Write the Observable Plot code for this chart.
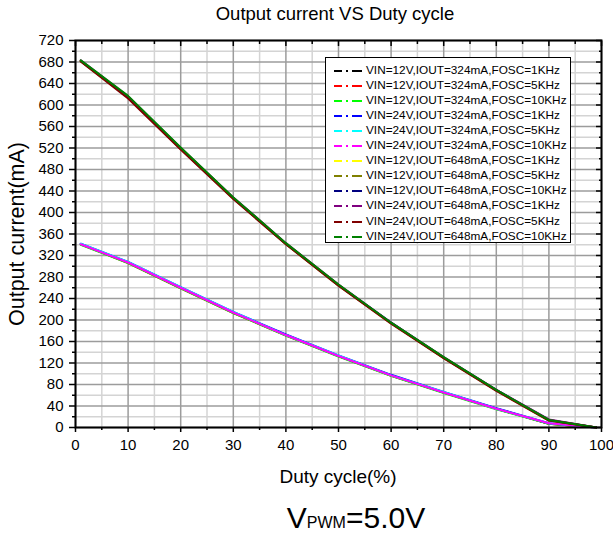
<!DOCTYPE html>
<html>
<head>
<meta charset="utf-8">
<script src="https://cdn.jsdelivr.net/npm/d3@7"></script>
<script src="https://cdn.jsdelivr.net/npm/@observablehq/plot@0.6"></script>
<style>
  html, body { margin: 0; padding: 0; background: #fff; }
  #wrap { position: relative; width: 613px; height: 533px; font-family: "Liberation Sans", Arial, sans-serif; color: #000; overflow: hidden; }
  .lbl { position: absolute; white-space: nowrap; line-height: 1; }
  #legend { position: absolute; left: 325px; top: 57px; width: 246px; height: 186px; border: 1px solid #000; background: #fff; box-sizing: border-box; }
  #legend .row { position: absolute; left: 8px; height: 15px; display: flex; align-items: center; font-size: 11.8px; line-height: 1; }
  #legend svg { margin-right: 4px; }
</style>
</head>
<body>
<div id="wrap"></div>
<script>
// ---- data ----
const titleText = "Output current VS Duty cycle";
const xLabel = "Duty cycle(%)";
const yLabel = "Output current(mA)";
const duty = [1, 10, 20, 30, 40, 50, 60, 70, 80, 90, 99];

const seriesNames = [
  "VIN=12V,IOUT=324mA,FOSC=1KHz",
  "VIN=12V,IOUT=324mA,FOSC=5KHz",
  "VIN=12V,IOUT=324mA,FOSC=10KHz",
  "VIN=24V,IOUT=324mA,FOSC=1KHz",
  "VIN=24V,IOUT=324mA,FOSC=5KHz",
  "VIN=24V,IOUT=324mA,FOSC=10KHz",
  "VIN=12V,IOUT=648mA,FOSC=1KHz",
  "VIN=12V,IOUT=648mA,FOSC=5KHz",
  "VIN=12V,IOUT=648mA,FOSC=10KHz",
  "VIN=24V,IOUT=648mA,FOSC=1KHz",
  "VIN=24V,IOUT=648mA,FOSC=5KHz",
  "VIN=24V,IOUT=648mA,FOSC=10KHz"
];
const seriesColors = ["#000000", "#ff0000", "#00ff00", "#0000ff", "#00ffff", "#ff00ff",
                      "#ffff00", "#808000", "#000080", "#800080", "#800000", "#008000"];

const s324_12_1  = [341, 307, 260, 214, 172, 133, 97, 65, 35, 7, 0];
const s324_12_5  = [341, 306, 259, 213, 171, 133, 96, 65, 35, 7, 0];
const s324_12_10 = [340, 306, 259, 213, 171, 132, 96, 64, 34, 7, 0];
const s324_24_1  = [342, 308, 261, 215, 173, 134, 98, 66, 36, 8, 0];
const s324_24_5  = [342, 308, 261, 215, 172, 134, 97, 66, 35, 8, 0];
const s324_24_10 = [341, 307, 260, 214, 172, 133, 97, 65, 35, 8, 0];
const s648_12_1  = [682, 615, 519, 427, 342, 265, 194, 130, 69, 14, 0];
const s648_12_5  = [681, 614, 518, 426, 341, 264, 194, 129, 69, 13, 0];
const s648_12_10 = [682, 615, 519, 427, 342, 265, 195, 130, 70, 14, 0];
const s648_24_1  = [683, 616, 520, 428, 343, 266, 195, 131, 70, 15, 0];
const s648_24_5  = [681, 612, 517, 425, 341, 264, 193, 129, 68, 13, 0];
const s648_24_10 = [683, 617, 521, 428, 343, 266, 195, 131, 70, 14, 0];

const seriesValues = [s324_12_1, s324_12_5, s324_12_10, s324_24_1, s324_24_5, s324_24_10,
                      s648_12_1, s648_12_5, s648_12_10, s648_24_1, s648_24_5, s648_24_10];

const xMajorTicks = d3.range(0, 101, 10);
const xMinorTicks = d3.range(5, 100, 10);
const yMajorTicks = d3.range(0, 721, 40);
const yMinorTicks = d3.range(20, 720, 40);

// ---- build table ----
const rows = [];
seriesNames.forEach((name, i) => {
  duty.forEach((d, j) => rows.push({series: name, duty: d, current: seriesValues[i][j]}));
});

const W = 613, H = 533;
const chart = Plot.plot({
  width: W,
  height: H,
  marginLeft: 75,
  marginRight: 12,
  marginTop: 40,
  marginBottom: 106,
  style: {fontFamily: "'Liberation Sans', Arial, sans-serif", fontSize: "15px", color: "#000", background: "#fff"},
  x: {domain: [0, 100]},
  y: {domain: [0, 720]},
  color: {domain: seriesNames, range: seriesColors},
  marks: [
    Plot.gridX(xMinorTicks, {stroke: "#d4d4d4", strokeOpacity: 1, strokeWidth: 1.5}),
    Plot.gridY(yMinorTicks, {stroke: "#d4d4d4", strokeOpacity: 1, strokeWidth: 1.5}),
    Plot.gridX(xMajorTicks, {stroke: "#9c9c9c", strokeOpacity: 1, strokeWidth: 1.5}),
    Plot.gridY(yMajorTicks, {stroke: "#9c9c9c", strokeOpacity: 1, strokeWidth: 1.5}),
    Plot.line(rows, {x: "duty", y: "current", z: "series", stroke: "series", strokeWidth: 2}),
    Plot.axisX(xMajorTicks, {anchor: "bottom", tickSize: 5, tickPadding: 7, strokeWidth: 1.5, label: null, fontSize: 15}),
    Plot.axisX(xMinorTicks, {anchor: "bottom", tickSize: 3, text: null, strokeWidth: 1.5, label: null}),
    Plot.axisX(xMajorTicks, {anchor: "top", tickSize: -5, text: null, strokeWidth: 1.5, label: null}),
    Plot.axisX(xMinorTicks, {anchor: "top", tickSize: -3, text: null, strokeWidth: 1.5, label: null}),
    Plot.axisY(yMajorTicks, {anchor: "left", tickSize: 6, tickPadding: 6, strokeWidth: 1.5, label: null, fontSize: 15}),
    Plot.axisY(yMinorTicks, {anchor: "left", tickSize: 3, text: null, strokeWidth: 1.5, label: null}),
    Plot.axisY(yMajorTicks, {anchor: "right", tickSize: -6, text: null, strokeWidth: 1.5, label: null}),
    Plot.axisY(yMinorTicks, {anchor: "right", tickSize: -3, text: null, strokeWidth: 1.5, label: null}),
    Plot.frame({stroke: "#000", strokeWidth: 2})
  ]
});

const wrap = document.getElementById("wrap");
wrap.appendChild(chart);
chart.style.position = "absolute";
chart.style.left = "0px";
chart.style.top = "0px";

function addLabel(text, css) {
  const el = document.createElement("div");
  el.className = "lbl";
  el.textContent = text;
  Object.assign(el.style, css);
  wrap.appendChild(el);
  return el;
}
addLabel(titleText, {left: "335px", top: "14px", fontSize: "18.5px", transform: "translate(-50%,-50%)"});
addLabel(xLabel, {left: "338px", top: "476px", fontSize: "19px", transform: "translate(-50%,-50%)"});
addLabel(yLabel, {left: "18px", top: "234px", fontSize: "21.5px", transform: "translate(-50%,-50%) rotate(-90deg)"});

const vp = document.createElement("div");
vp.className = "lbl";
Object.assign(vp.style, {left: "356px", top: "518px", fontSize: "30px", transform: "translate(-50%,-50%)"});
vp.innerHTML = 'V<span style="font-size:16px">PWM</span>=5.0V';
wrap.appendChild(vp);

// ---- legend ----
const legend = document.createElement("div");
legend.id = "legend";
wrap.appendChild(legend);
seriesNames.forEach((name, i) => {
  const row = document.createElement("div");
  row.className = "row";
  row.style.top = (5 + i * 15.1) + "px";
  const sw = d3.create("svg").attr("width", 28).attr("height", 4);
  sw.append("line").attr("x1", 0).attr("x2", 28).attr("y1", 2).attr("y2", 2)
    .attr("stroke", seriesColors[i]).attr("stroke-width", 2).attr("stroke-dasharray", "8,4,2,4,10");
  row.appendChild(sw.node());
  const t = document.createElement("span");
  t.textContent = name;
  row.appendChild(t);
  legend.appendChild(row);
});
</script>
</body>
</html>
